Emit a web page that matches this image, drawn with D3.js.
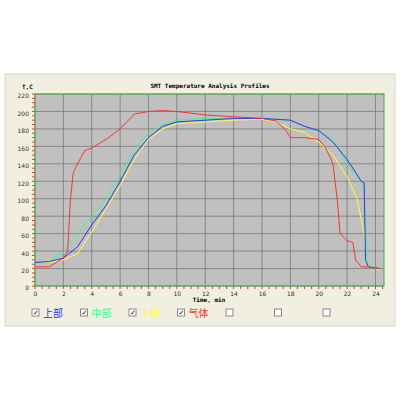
<!DOCTYPE html><html><head><script src="https://cdn.jsdelivr.net/npm/d3@7"></script>
<style>body{margin:0;background:#fff}</style></head><body><svg id="c" width="400" height="400"></svg><script>
const tBlue=[0,1,2,3,4,5,6,7,8,9,10,12,14,16,18,19,20,21,22,23,23.2,23.3,23.5,24.3];
const vBlue=[27,28,32,45,70,92,120,150,170,183,188,190,192,192,190,183,178,165,145,120,118,30,22,20];
const tGreen=[0,1,2,3,4,5,6,7,8,9,10,12,14,16,18,19,20,21,22,23,23.2,23.4,24.3];
const vGreen=[27,28,38,60,80,100,128,155,175,185,190,192,193,192,190,183,178,168,140,118,110,25,20];
const tYellow=[0,1,2,3,4,5,6,7,8,9,10,12,14,16,17,18,19,20,21,22,22.7,23.2,23.4,24.3];
const vYellow=[27,27,30,37,62,88,115,145,168,180,186,188,190,191,188,180,176,165,150,125,100,60,25,18];
const tRed=[0,1,2,2.3,2.5,2.7,3,3.5,4,5,6,7,8,9,10,12,14,16,17,17.6,18,19,20,20.5,21,21.3,21.5,22,22.4,22.6,23,23.5,24.3];
const vRed=[22,22,32,40,100,130,140,155,158,168,180,197,200,201,200,196,194,192,189,180,170,170,168,158,140,100,60,52,50,30,22,22,20];
const xTicks=[0,2,4,6,8,10,12,14,16,18,20,22,24];
const yTicks=[0,20,40,60,80,100,120,140,160,180,200,220];
const legend=[["上部","#3030ff"],["中部","#30ff90"],["下部","#ffff30"],["气体","#ff3030"],["",""],["",""],["",""]];
const svg=d3.select("#c");
svg.append("rect").attr("x",5).attr("y",74).attr("width",390).attr("height",252).attr("fill","#f0efe0").attr("stroke","#d8d6c8");
const L=35,R=384,T=94,B=286;
const x=d3.scaleLinear().domain([0,24.6]).range([L,R]);
const y=d3.scaleLinear().domain([0,220]).range([B,T]);
svg.append("rect").attr("x",L).attr("y",T).attr("width",R-L).attr("height",B-T).attr("fill","#c0c0c0");
const g=svg.append("g");
xTicks.forEach(t=>g.append("line").attr("x1",x(t)).attr("x2",x(t)).attr("y1",T).attr("y2",B).attr("stroke","#707070").attr("stroke-width",0.7));
yTicks.forEach(t=>g.append("line").attr("x1",L).attr("x2",R).attr("y1",y(t)).attr("y2",y(t)).attr("stroke","#707070").attr("stroke-width",0.7));
d3.range(0,24.6,0.5).forEach(t=>g.append("line").attr("x1",x(t)).attr("x2",x(t)).attr("y1",B).attr("y2",B+3).attr("stroke","#ff3030"));
d3.range(0,221,5).forEach(t=>g.append("line").attr("x1",L-3).attr("x2",L).attr("y1",y(t)).attr("y2",y(t)).attr("stroke","#ff3030"));
svg.append("rect").attr("x",L).attr("y",T).attr("width",R-L).attr("height",B-T).attr("fill","none").attr("stroke","#40b040");
const ax=svg.append("g").attr("transform",`translate(0,${B+3})`).call(d3.axisBottom(x).tickValues(xTicks).tickSize(0).tickPadding(3));
ax.select(".domain").remove();
const ay=svg.append("g").attr("transform",`translate(${L-3},2)`).call(d3.axisLeft(y).tickValues(yTicks).tickSize(0).tickPadding(3));
ay.select(".domain").remove();
svg.selectAll(".tick text").attr("font-family","DejaVu Sans").attr("font-size",6).attr("fill","#333");
const mk=(ts,vs,c)=>svg.append("path").datum(ts.map((t,i)=>[t,vs[i]])).attr("fill","none").attr("stroke",c).attr("stroke-width",1).attr("d",d3.line().x(d=>x(d[0])).y(d=>y(d[1])));
mk(tYellow,vYellow,"#ffff30");mk(tGreen,vGreen,"#30ff90");mk(tBlue,vBlue,"#3030ff");mk(tRed,vRed,"#ff3030");
svg.append("text").attr("x",210).attr("y",88).attr("text-anchor","middle").attr("font-family","DejaVu Sans Mono").attr("font-weight","bold").attr("font-size",6).text("SMT Temperature Analysis Profiles");
svg.append("text").attr("x",22).attr("y",89).attr("font-family","DejaVu Sans Mono").attr("font-weight","bold").attr("font-size",6).text("T,C");
svg.append("text").attr("x",209).attr("y",302).attr("text-anchor","middle").attr("font-family","DejaVu Sans Mono").attr("font-weight","bold").attr("font-size",6).text("Time, min");
legend.forEach((d,i)=>{const lx=32+i*48.5;
 svg.append("rect").attr("x",lx).attr("y",309).attr("width",7).attr("height",7).attr("fill","#fff").attr("stroke","#888");
 if(d[0]){svg.append("text").attr("x",lx+1).attr("y",315).attr("font-size",7).attr("font-family","DejaVu Sans").text("✓");
 svg.append("text").attr("x",lx+11).attr("y",317).attr("fill",d[1]).attr("font-size",10).attr("font-family","Noto Sans CJK SC").text(d[0]);}
});
</script></body></html>
